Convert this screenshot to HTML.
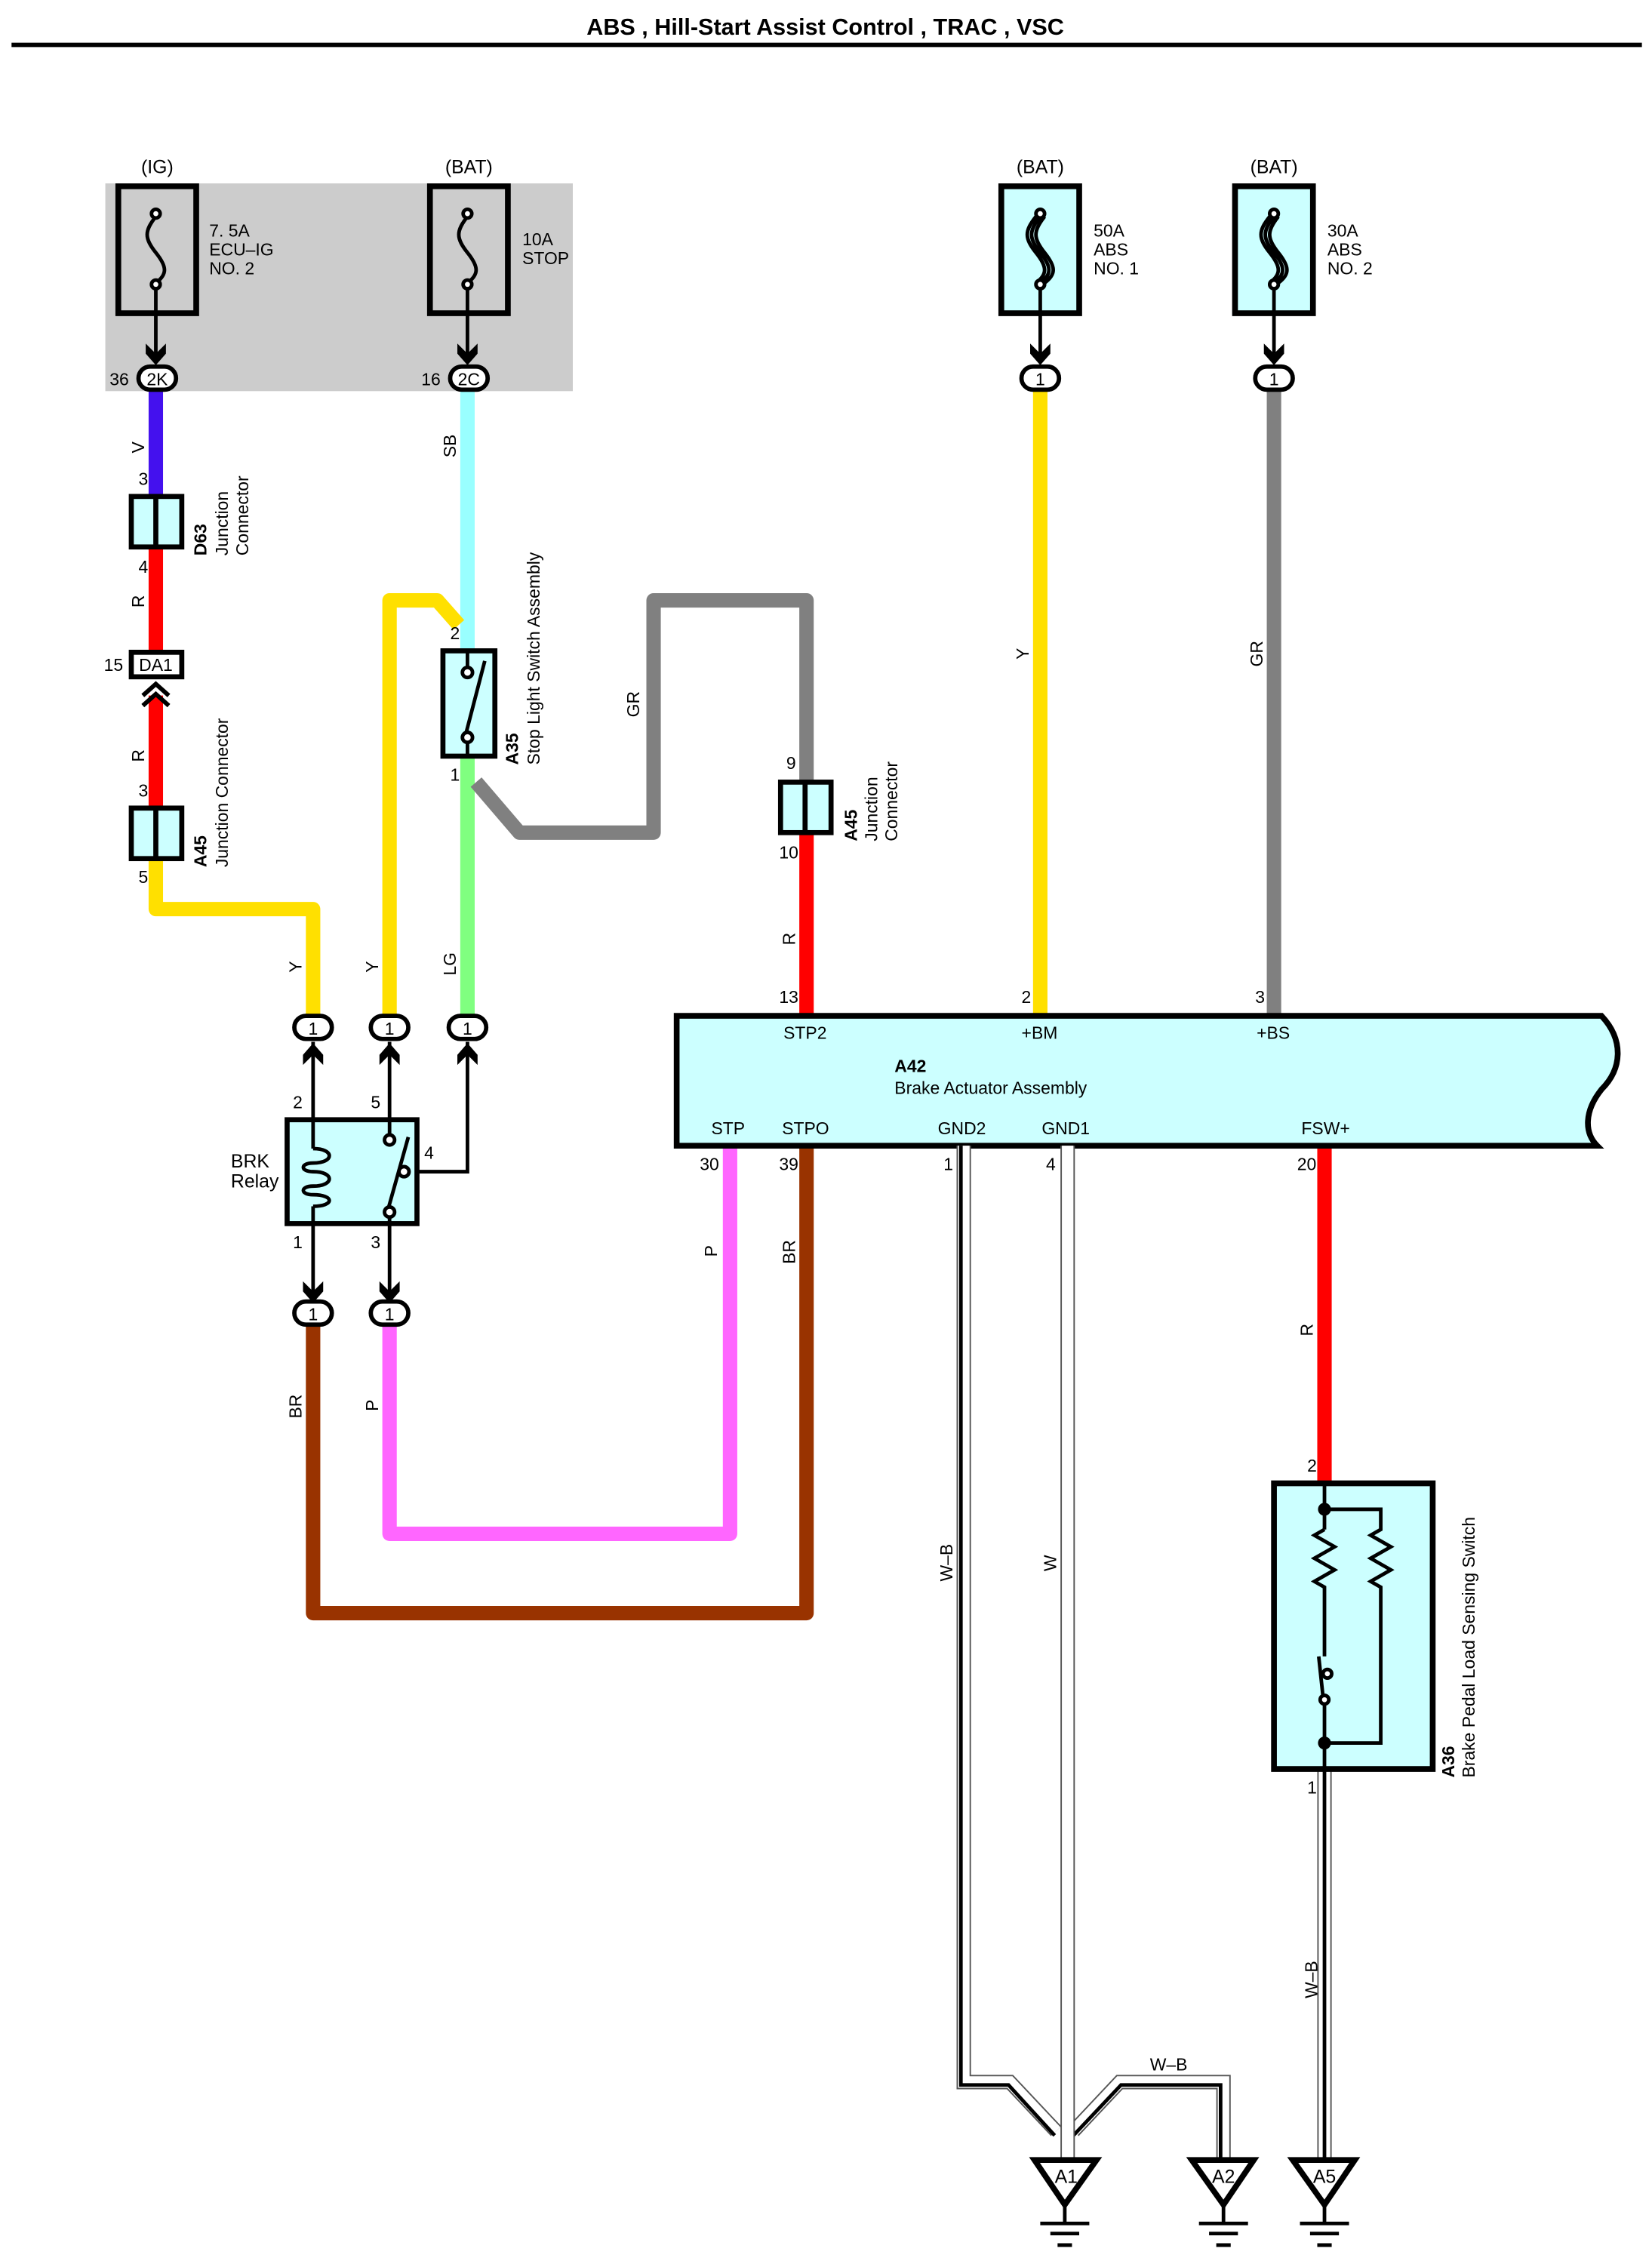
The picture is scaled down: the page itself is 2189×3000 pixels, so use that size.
<!DOCTYPE html>
<html><head><meta charset="utf-8"><style>
html,body{margin:0;padding:0;background:#fff}
svg{display:block}
text{font-family:"Liberation Sans",sans-serif;fill:#000}
</style></head><body>
<svg width="2189" height="3000" viewBox="0 0 1145 1569" xmlns="http://www.w3.org/2000/svg">
<defs>
<g id="arrDown"><path d="M-7,-10 L0,-3 L7,-10 L7,-3 L0,5 L-7,-3 Z" fill="#000"/></g>
<g id="arrUp"><path d="M-7,10 L0,3 L7,10 L7,3 L0,-5 L-7,3 Z" fill="#000"/></g>
</defs>
<!-- title -->
<text x="572" y="24" font-size="16" font-weight="bold" text-anchor="middle">ABS , Hill-Start Assist Control , TRAC , VSC</text>
<line x1="8" y1="31" x2="1138" y2="31" stroke="#000" stroke-width="3"/>

<!-- gray block -->
<rect x="73" y="127" width="324" height="144" fill="#cccccc"/>

<g font-size="13">
<text x="109" y="120" text-anchor="middle">(IG)</text>
<text x="325" y="120" text-anchor="middle">(BAT)</text>
<text x="721" y="120" text-anchor="middle">(BAT)</text>
<text x="883" y="120" text-anchor="middle">(BAT)</text>
</g>

<!-- fuse boxes -->
<g stroke="#000" stroke-width="4" fill="none">
<rect x="82" y="129" width="54" height="88"/>
<rect x="298" y="129" width="54" height="88"/>
<rect x="694" y="129" width="54" height="88" fill="#ccffff"/>
<rect x="856" y="129" width="54" height="88" fill="#ccffff"/>
</g>
<g stroke="#000" stroke-width="2.5" fill="none">
<path d="M108,150 C100,160 100,165 108,175 C116,185 116,190 108,196"/>
<circle cx="108" cy="148" r="3" fill="#fff"/><circle cx="108" cy="197" r="3" fill="#fff"/>
<line x1="108" y1="200" x2="108" y2="245"/>
<path d="M324,150 C316,160 316,165 324,175 C332,185 332,190 324,196"/>
<circle cx="324" cy="148" r="3" fill="#fff"/><circle cx="324" cy="197" r="3" fill="#fff"/>
<line x1="324" y1="200" x2="324" y2="245"/>
<path d="M721,150 C713,160 713,165 721,175 C729,185 729,190 721,196 M724,150 C716,160 716,165 724,175 C732,185 732,190 724,196 M718,150 C710,160 710,165 718,175 C726,185 726,190 718,196"/>
<circle cx="721" cy="148" r="3" fill="#fff"/><circle cx="721" cy="197" r="3" fill="#fff"/>
<line x1="721" y1="200" x2="721" y2="245"/>
<path d="M883,150 C875,160 875,165 883,175 C891,185 891,190 883,196 M886,150 C878,160 878,165 886,175 C894,185 894,190 886,196 M880,150 C872,160 872,165 880,175 C888,185 888,190 880,196"/>
<circle cx="883" cy="148" r="3" fill="#fff"/><circle cx="883" cy="197" r="3" fill="#fff"/>
<line x1="883" y1="200" x2="883" y2="245"/>
</g>
<use href="#arrDown" x="108" y="248"/><use href="#arrDown" x="324" y="248"/>
<use href="#arrDown" x="721" y="248"/><use href="#arrDown" x="883" y="248"/>
<g font-size="12">
<text x="145" y="164">7. 5A</text><text x="145" y="177">ECU–IG</text><text x="145" y="190">NO. 2</text>
<text x="362" y="170">10A</text><text x="362" y="183">STOP</text>
<text x="758" y="164">50A</text><text x="758" y="177">ABS</text><text x="758" y="190">NO. 1</text>
<text x="920" y="164">30A</text><text x="920" y="177">ABS</text><text x="920" y="190">NO. 2</text>
</g>

<!-- wires (colored) -->
<g fill="none" stroke-width="10" stroke-linejoin="round">
<line x1="108" y1="270" x2="108" y2="345" stroke="#4411ee"/>
<line x1="108" y1="378" x2="108" y2="454" stroke="#ff0000"/>
<line x1="108" y1="482" x2="108" y2="562" stroke="#ff0000"/>
<polyline points="108,595 108,630 217,630 217,704" stroke="#ffe000"/>
<line x1="324" y1="270" x2="324" y2="452" stroke="#99ffff"/>
<polyline points="270,704 270,416 303,416 318,433" stroke="#ffe000"/>
<line x1="324" y1="523" x2="324" y2="704" stroke="#80ff80"/>
<polyline points="330,542 360,577 453,577 453,416 559,416 559,543" stroke="#808080"/>
<line x1="559" y1="577" x2="559" y2="704" stroke="#ff0000"/>
<line x1="721" y1="270" x2="721" y2="704" stroke="#ffe000"/>
<line x1="883" y1="270" x2="883" y2="704" stroke="#808080"/>
<polyline points="217,918 217,1118 559,1118 559,794" stroke="#993300"/>
<polyline points="270,918 270,1063 506,1063 506,794" stroke="#ff66ff"/>
<line x1="918" y1="794" x2="918" y2="1028" stroke="#ff0000"/>
</g>

<!-- connector ovals -->
<g stroke="#000" stroke-width="3" fill="#fff">
<rect x="96" y="254" width="26" height="16" rx="8"/>
<rect x="312" y="254" width="26" height="16" rx="8"/>
<rect x="708" y="254" width="26" height="16" rx="8"/>
<rect x="870" y="254" width="26" height="16" rx="8"/>
<rect x="204" y="704" width="26" height="16" rx="8"/>
<rect x="257" y="704" width="26" height="16" rx="8"/>
<rect x="311" y="704" width="26" height="16" rx="8"/>
<rect x="204" y="902" width="26" height="16" rx="8"/>
<rect x="257" y="902" width="26" height="16" rx="8"/>
</g>
<g font-size="12" text-anchor="middle">
<text x="109" y="267">2K</text><text x="325" y="267">2C</text><text x="721" y="267">1</text><text x="883" y="267">1</text>
<text x="217" y="717">1</text><text x="270" y="717">1</text><text x="324" y="717">1</text>
<text x="217" y="915">1</text><text x="270" y="915">1</text>
</g>
<g font-size="12"><text x="76" y="267">36</text><text x="292" y="267">16</text></g>

<!-- junction connectors -->
<g stroke="#000" stroke-width="3.5" fill="#ccffff">
<rect x="91" y="344" width="35" height="35"/><line x1="108" y1="344" x2="108" y2="379"/>
<rect x="91" y="560" width="35" height="35"/><line x1="108" y1="560" x2="108" y2="595"/>
<rect x="541" y="542" width="35" height="35"/><line x1="558" y1="542" x2="558" y2="577"/>
<rect x="91" y="452" width="35" height="17" fill="#fff"/>
</g>
<text x="108" y="465" font-size="12" text-anchor="middle">DA1</text>
<text x="72" y="465" font-size="12">15</text>
<path d="M99,482 L108,474 L117,482 M99,489 L108,481 L117,489" stroke="#000" stroke-width="3" fill="none"/>

<!-- pin numbers -->
<g font-size="12">
<text x="96" y="336">3</text><text x="96" y="397">4</text>
<text x="96" y="552">3</text><text x="96" y="612">5</text>
<text x="312" y="443">2</text><text x="312" y="541">1</text>
<text x="545" y="533">9</text><text x="540" y="595">10</text>
<text x="540" y="695">13</text><text x="708" y="695">2</text><text x="870" y="695">3</text>
<text x="203" y="768">2</text><text x="257" y="768">5</text><text x="294" y="803">4</text>
<text x="203" y="865">1</text><text x="257" y="865">3</text>
<text x="485" y="811">30</text><text x="540" y="811">39</text>
<text x="654" y="811">1</text><text x="725" y="811">4</text><text x="899" y="811">20</text>
<text x="906" y="1020">2</text><text x="906" y="1243">1</text>
</g>

<!-- wire color labels rotated -->
<g font-size="12">
<text transform="translate(100,314) rotate(-90)">V</text>
<text transform="translate(100,421) rotate(-90)">R</text>
<text transform="translate(100,528) rotate(-90)">R</text>
<text transform="translate(209,674) rotate(-90)">Y</text>
<text transform="translate(262,674) rotate(-90)">Y</text>
<text transform="translate(316,317) rotate(-90)">SB</text>
<text transform="translate(316,676) rotate(-90)">LG</text>
<text transform="translate(443,497) rotate(-90)">GR</text>
<text transform="translate(551,655) rotate(-90)">R</text>
<text transform="translate(713,457) rotate(-90)">Y</text>
<text transform="translate(875,462) rotate(-90)">GR</text>
<text transform="translate(209,983) rotate(-90)">BR</text>
<text transform="translate(262,978) rotate(-90)">P</text>
<text transform="translate(497,871) rotate(-90)">P</text>
<text transform="translate(551,876) rotate(-90)">BR</text>
<text transform="translate(910,926) rotate(-90)">R</text>
<text transform="translate(660,1096) rotate(-90)">W–B</text>
<text transform="translate(732,1089) rotate(-90)">W</text>
<text transform="translate(913,1385) rotate(-90)">W–B</text>
<text x="797" y="1435">W–B</text>
</g>
<!-- component labels rotated -->
<g font-size="12">
<text transform="translate(143,385) rotate(-90)" font-weight="bold">D63</text>
<text transform="translate(158,385) rotate(-90)">Junction</text>
<text transform="translate(172,385) rotate(-90)">Connector</text>
<text transform="translate(143,601) rotate(-90)" font-weight="bold">A45</text>
<text transform="translate(158,601) rotate(-90)">Junction Connector</text>
<text transform="translate(359,530) rotate(-90)" font-weight="bold">A35</text>
<text transform="translate(374,530) rotate(-90)">Stop Light Switch Assembly</text>
<text transform="translate(594,583) rotate(-90)" font-weight="bold">A45</text>
<text transform="translate(608,583) rotate(-90)">Junction</text>
<text transform="translate(622,583) rotate(-90)">Connector</text>
<text transform="translate(1008,1232) rotate(-90)" font-weight="bold">A36</text>
<text transform="translate(1022,1232) rotate(-90)">Brake Pedal Load Sensing Switch</text>
</g>

<!-- Stop light switch -->
<rect x="307" y="451" width="36" height="73" fill="#ccffff" stroke="#000" stroke-width="3.5"/>
<g stroke="#000" stroke-width="2.5" fill="none">
<line x1="324" y1="451" x2="324" y2="462"/><circle cx="324" cy="466" r="3.5" fill="#fff"/>
<line x1="336" y1="458" x2="322" y2="512"/>
<circle cx="324" cy="511" r="3.5" fill="#fff"/><line x1="324" y1="515" x2="324" y2="524"/>
</g>

<!-- A42 brake actuator -->
<path d="M469,704 L1110,704 C1125,720 1125,740 1110,755 C1098,770 1098,785 1107,794 L469,794 Z" fill="#ccffff" stroke="#000" stroke-width="4"/>
<g font-size="12">
<text x="543" y="720">STP2</text><text x="708" y="720">+BM</text><text x="871" y="720">+BS</text>
<text x="620" y="743" font-weight="bold">A42</text>
<text x="620" y="758">Brake Actuator Assembly</text>
<text x="493" y="786">STP</text><text x="542" y="786">STPO</text>
<text x="650" y="786">GND2</text><text x="722" y="786">GND1</text><text x="902" y="786">FSW+</text>
</g>

<!-- relay -->
<text x="160" y="809" font-size="13">BRK</text><text x="160" y="823" font-size="13">Relay</text>
<g stroke="#000" stroke-width="2.5" fill="none">
<line x1="217" y1="722" x2="217" y2="902"/>
<line x1="270" y1="722" x2="270" y2="902"/>
<polyline points="324,722 324,812 282,812"/>
</g>
<rect x="199" y="776" width="90" height="72" fill="#ccffff" stroke="#000" stroke-width="3.5"/>
<g stroke="#000" stroke-width="2.5" fill="none">
<line x1="217" y1="776" x2="217" y2="796"/>
<path d="M217,796 C232,796 232,806 217,806 C208,806 208,812 217,812 C232,812 232,822 217,822 C208,822 208,828 217,828 C232,828 232,836 217,836"/>
<line x1="217" y1="836" x2="217" y2="848"/>
<line x1="270" y1="776" x2="270" y2="786"/><circle cx="270" cy="790" r="3.5" fill="#fff"/>
<line x1="283" y1="788" x2="269" y2="838"/><circle cx="280" cy="812" r="3.5" fill="#fff"/>
<circle cx="270" cy="840" r="3.5" fill="#fff"/><line x1="270" y1="844" x2="270" y2="848"/>
</g>
<use href="#arrUp" x="217" y="728"/><use href="#arrUp" x="270" y="728"/><use href="#arrUp" x="324" y="728"/>
<use href="#arrDown" x="217" y="898"/><use href="#arrDown" x="270" y="898"/>

<!-- ground wires (double) -->
<g fill="none" stroke-linejoin="miter">
<polyline points="668,794 668,1443 700,1443 732,1477" stroke="#555" stroke-width="10"/>
<polyline points="668,794 668,1443 700,1443 732,1477" stroke="#fff" stroke-width="8"/>
<polyline points="666,794 666,1445 699,1445 731,1480" stroke="#000" stroke-width="2.5"/>
<polyline points="848,1497 848,1443 776,1443 744,1477" stroke="#555" stroke-width="10"/>
<polyline points="848,1497 848,1443 776,1443 744,1477" stroke="#fff" stroke-width="8"/>
<polyline points="846,1497 846,1445 777,1445 744,1480" stroke="#000" stroke-width="2.5"/>
<line x1="740" y1="794" x2="740" y2="1497" stroke="#555" stroke-width="10"/>
<line x1="740" y1="794" x2="740" y2="1497" stroke="#fff" stroke-width="8"/>
<line x1="918" y1="1226" x2="918" y2="1497" stroke="#555" stroke-width="10"/>
<line x1="918" y1="1226" x2="918" y2="1497" stroke="#fff" stroke-width="8"/>
<line x1="918" y1="1226" x2="918" y2="1497" stroke="#000" stroke-width="2.5"/>
</g>

<!-- A36 switch -->
<rect x="883" y="1028" width="110" height="198" fill="#ccffff" stroke="#000" stroke-width="4"/>
<g stroke="#000" stroke-width="2.5" fill="none">
<line x1="918" y1="1028" x2="918" y2="1060"/>
<polyline points="918,1046 957,1046 957,1060 950,1064 964,1072 950,1080 964,1088 950,1096 957,1100 957,1208 918,1208"/>
<polyline points="918,1060 911,1064 925,1072 911,1080 925,1088 911,1096 918,1100 918,1148"/>
<line x1="914" y1="1148" x2="917" y2="1176"/>
<circle cx="920" cy="1160" r="3" fill="#fff"/><circle cx="918" cy="1178" r="3" fill="#fff"/>
<line x1="918" y1="1181" x2="918" y2="1226"/>
</g>
<circle cx="918" cy="1046" r="4.5" fill="#000"/><circle cx="918" cy="1208" r="4.5" fill="#000"/>

<!-- grounds -->
<g stroke="#000" fill="#fff">
<path d="M717,1497 L760,1497 L738,1528 Z" stroke-width="4"/>
<path d="M826,1497 L869,1497 L848,1528 Z" stroke-width="4"/>
<path d="M896,1497 L939,1497 L918,1528 Z" stroke-width="4"/>
</g>
<g stroke="#000" stroke-width="2.5">
<line x1="738" y1="1528" x2="738" y2="1540"/><line x1="721" y1="1541" x2="755" y2="1541"/><line x1="728" y1="1548" x2="748" y2="1548"/><line x1="733" y1="1556" x2="743" y2="1556"/>
<line x1="848" y1="1528" x2="848" y2="1540"/><line x1="831" y1="1541" x2="865" y2="1541"/><line x1="838" y1="1548" x2="858" y2="1548"/><line x1="843" y1="1556" x2="853" y2="1556"/>
<line x1="918" y1="1528" x2="918" y2="1540"/><line x1="901" y1="1541" x2="935" y2="1541"/><line x1="908" y1="1548" x2="928" y2="1548"/><line x1="913" y1="1556" x2="923" y2="1556"/>
</g>
<g font-size="13" text-anchor="middle">
<text x="739" y="1513">A1</text><text x="848" y="1513">A2</text><text x="918" y="1513">A5</text>
</g>
</svg>
</body></html>
